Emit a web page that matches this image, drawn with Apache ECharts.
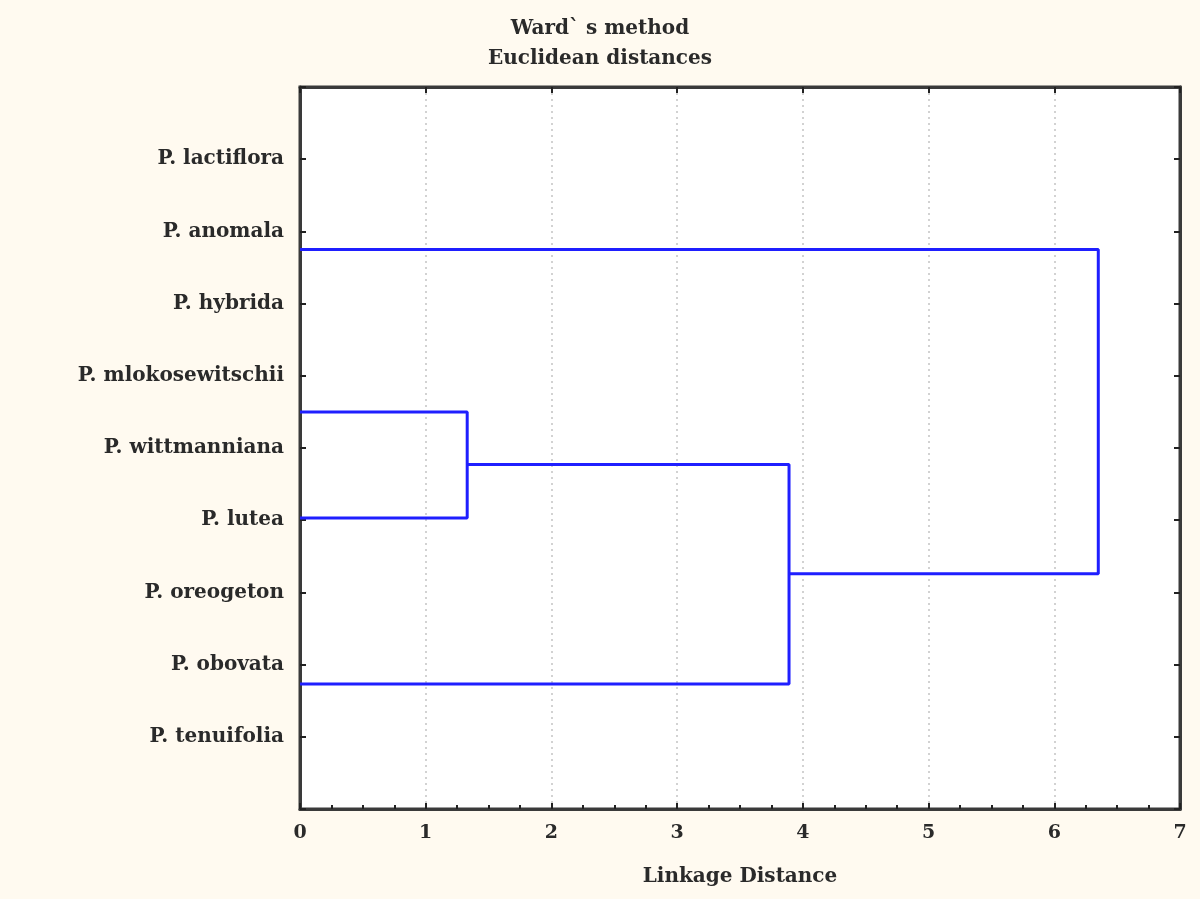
<!DOCTYPE html>
<html>
<head>
<meta charset="utf-8">
<script src="https://cdn.jsdelivr.net/npm/echarts@6/dist/echarts.min.js"></script>
<style>
html,body{margin:0;padding:0;background:#fffaf0;}
#chart{width:1200px;height:899px;}
</style>
</head>
<body>
<div id="chart"></div>
<script>
// Leaf labels, top to bottom (positions 1..9 on the vertical axis)
const categories = ["P. lactiflora","P. anomala","P. hybrida","P. mlokosewitschii","P. wittmanniana","P. lutea","P. oreogeton","P. obovata","P. tenuifolia"];
// X-axis tick labels
const xTicks = ["0","1","2","3","4","5","6","7"];
// Dendrogram merges (linkage distance), with the vertical positions and start distances of the two joined branches
const mergeHeight = [1.33, 3.89, 6.35];
const branchA_pos  = [4.50, 5.23, 2.25];
const branchA_from = [0, 1.33, 0];
const branchB_pos  = [5.97, 8.27, 6.74];
const branchB_from = [0, 0, 3.89];

const chart = echarts.init(document.getElementById('chart'));
const font = '"DejaVu Serif", "Liberation Serif", serif';

const series = mergeHeight.map((h, i) => ({
  type: 'line',
  xAxisIndex: 0, yAxisIndex: 0,
  data: [[branchA_from[i], branchA_pos[i]], [h, branchA_pos[i]], [h, branchB_pos[i]], [branchB_from[i], branchB_pos[i]]],
  symbol: 'none',
  lineStyle: {color: '#1f1fff', width: 3},
  silent: true,
  animation: false
}));

const tickStyle = {color: '#222', width: 2};
const lineStyle = {color: '#3a3a3a', width: 3};

chart.setOption({
  backgroundColor: '#fffaf0',
  animation: false,
  title: {
    text: 'Ward` s method\nEuclidean distances',
    left: 'center',
    top: 9,
    textStyle: {fontFamily: font, fontSize: 20, fontWeight: 'bold', color: '#2a2a2a', lineHeight: 30}
  },
  grid: {left: 300, right: 20, top: 87, bottom: 90, show: true, backgroundColor: '#ffffff', borderColor: '#3a3a3a', borderWidth: 3},
  xAxis: [{
    type: 'value', min: 0, max: 7, interval: 1, position: 'bottom',
    name: 'Linkage Distance', nameLocation: 'middle', nameGap: 58,
    nameTextStyle: {fontFamily: font, fontSize: 20, fontWeight: 'bold', color: '#2a2a2a'},
    axisLine: {show: true, onZero: false, lineStyle: lineStyle},
    axisTick: {show: true, inside: true, length: 6, lineStyle: tickStyle},
    minorTick: {show: true, splitNumber: 4, length: 4, lineStyle: tickStyle},
    axisLabel: {fontFamily: font, fontSize: 19, fontWeight: 'bold', color: '#2a2a2a', margin: 15, formatter: v => xTicks[Math.round(v)]},
    splitLine: {show: true, lineStyle: {color: '#c4c4c4', type: [2, 4], width: 1.5}}
  }, {
    type: 'value', min: 0, max: 7, interval: 1, position: 'top',
    axisLine: {show: true, onZero: false, lineStyle: lineStyle},
    axisTick: {show: true, inside: true, length: 6, lineStyle: tickStyle},
    axisLabel: {show: false}, splitLine: {show: false}
  }],
  yAxis: [{
    type: 'value', min: 0, max: 10, interval: 1, inverse: true, position: 'left',
    axisLine: {show: true, onZero: false, lineStyle: lineStyle},
    axisTick: {show: true, inside: true, length: 6, lineStyle: tickStyle},
    axisLabel: {fontFamily: font, fontSize: 20, fontWeight: 'bold', color: '#2a2a2a', margin: 16,
      formatter: v => (v >= 1 && v <= 9) ? categories[v - 1] : ''},
    splitLine: {show: false}
  }, {
    type: 'value', min: 0, max: 10, interval: 1, inverse: true, position: 'right',
    axisLine: {show: true, onZero: false, lineStyle: lineStyle},
    axisTick: {show: true, inside: true, length: 6, lineStyle: tickStyle},
    axisLabel: {show: false}, splitLine: {show: false}
  }],
  series: series
});
</script>
</body>
</html>
